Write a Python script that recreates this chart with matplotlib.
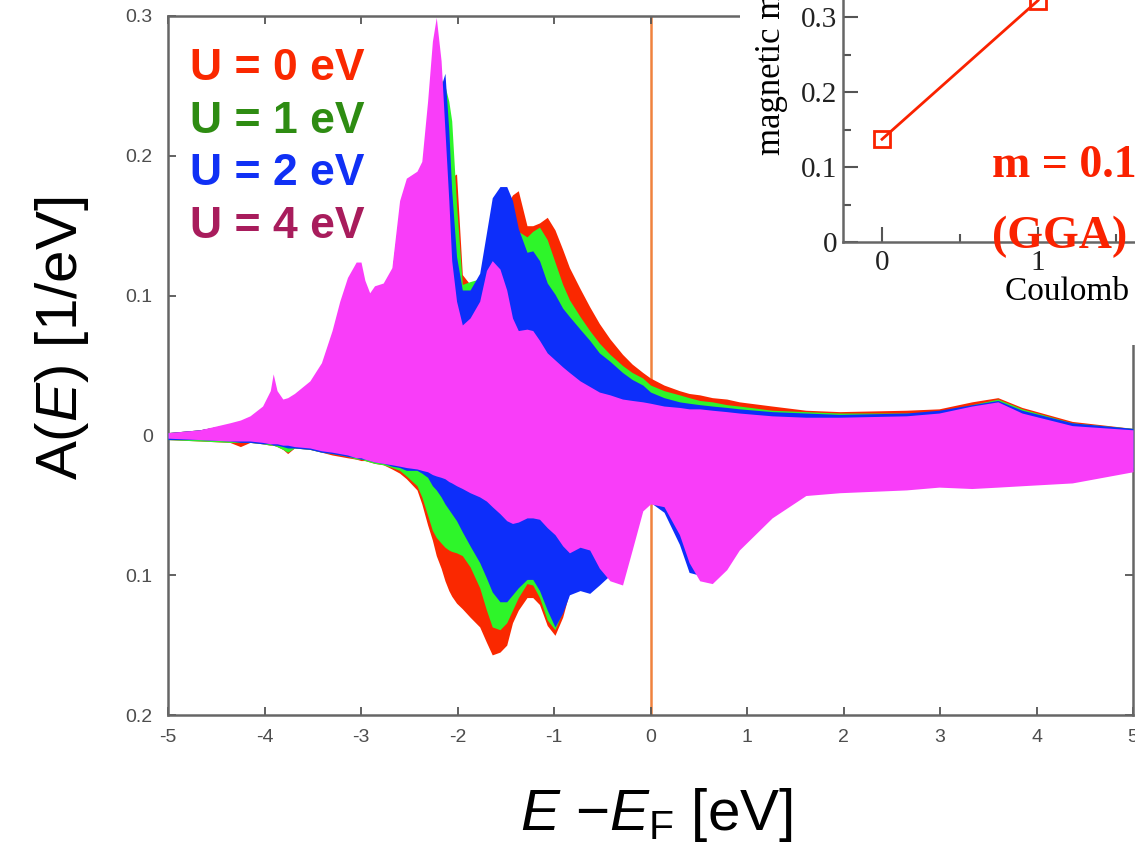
import matplotlib
matplotlib.use("Agg")
import matplotlib.pyplot as plt
from matplotlib.patches import Rectangle
from matplotlib.ticker import FixedLocator, FixedFormatter

plt.rcParams['font.family'] = ['Liberation Sans', 'DejaVu Sans']
plt.rcParams['mathtext.fontset'] = 'custom'
plt.rcParams['mathtext.rm'] = 'Liberation Sans'
plt.rcParams['mathtext.it'] = 'Liberation Sans:italic'
plt.rcParams['mathtext.bf'] = 'Liberation Sans:bold'

# ---------------- data ----------------
energy = [-5.00, -4.67, -4.36, -4.25, -4.15, -4.02, -3.94, -3.91, -3.87, -3.81,
          -3.76, -3.69, -3.53, -3.41, -3.30, -3.22, -3.14, -3.05, -3.00, -2.96,
          -2.91, -2.86, -2.77, -2.68, -2.60, -2.53, -2.42, -2.37, -2.31, -2.26,
          -2.22, -2.17, -2.13, -2.09, -2.06, -2.01, -1.95, -1.87, -1.77, -1.70,
          -1.64, -1.56, -1.49, -1.43, -1.37, -1.28, -1.22, -1.15, -1.07, -0.99,
          -0.91, -0.84, -0.73, -0.63, -0.53, -0.42, -0.29, -0.19, -0.08, 0.00,
          0.14, 0.30, 0.40, 0.51, 0.64, 0.79, 0.92, 1.26, 1.61, 1.96,
          2.65, 2.99, 3.33, 3.60, 3.85, 4.37, 5.00]

# spin-up spectral weight (plotted upward)
up_U0 = [0.002, 0.004, 0.008, 0.010, 0.013, 0.019, 0.028, 0.038, 0.030, 0.025,
         0.026, 0.029, 0.037, 0.050, 0.072, 0.092, 0.109, 0.119, 0.119, 0.107,
         0.099, 0.104, 0.106, 0.116, 0.162, 0.178, 0.183, 0.190, 0.225, 0.255,
         0.270, 0.245, 0.200, 0.170, 0.185, 0.187, 0.115, 0.108, 0.110, 0.118,
         0.140, 0.155, 0.165, 0.172, 0.175, 0.150, 0.150, 0.152, 0.156, 0.147,
         0.133, 0.120, 0.105, 0.092, 0.080, 0.069, 0.058, 0.051, 0.045, 0.041,
         0.036, 0.032, 0.030, 0.029, 0.027, 0.026, 0.024, 0.021, 0.018, 0.017,
         0.018, 0.019, 0.024, 0.027, 0.020, 0.010, 0.005]
up_U1 = [0.002, 0.004, 0.008, 0.010, 0.013, 0.019, 0.028, 0.038, 0.030, 0.025,
         0.026, 0.029, 0.037, 0.050, 0.072, 0.092, 0.109, 0.119, 0.119, 0.107,
         0.099, 0.104, 0.106, 0.116, 0.162, 0.178, 0.183, 0.190, 0.225, 0.255,
         0.270, 0.255, 0.250, 0.239, 0.225, 0.165, 0.108, 0.110, 0.112, 0.122,
         0.130, 0.135, 0.140, 0.144, 0.146, 0.142, 0.146, 0.149, 0.140, 0.124,
         0.108, 0.097, 0.085, 0.075, 0.066, 0.058, 0.050, 0.045, 0.041, 0.036,
         0.032, 0.029, 0.027, 0.025, 0.024, 0.022, 0.021, 0.018, 0.017, 0.016,
         0.016, 0.017, 0.022, 0.026, 0.019, 0.009, 0.005]
up_U2 = [0.002, 0.004, 0.008, 0.010, 0.013, 0.019, 0.028, 0.038, 0.030, 0.025,
         0.026, 0.029, 0.037, 0.050, 0.072, 0.092, 0.109, 0.119, 0.119, 0.107,
         0.099, 0.104, 0.106, 0.116, 0.162, 0.178, 0.183, 0.190, 0.225, 0.255,
         0.270, 0.250, 0.259, 0.218, 0.175, 0.128, 0.104, 0.104, 0.116, 0.145,
         0.170, 0.178, 0.178, 0.168, 0.148, 0.131, 0.132, 0.125, 0.109, 0.101,
         0.091, 0.085, 0.076, 0.068, 0.059, 0.053, 0.045, 0.040, 0.036, 0.031,
         0.027, 0.024, 0.023, 0.022, 0.021, 0.020, 0.019, 0.017, 0.016, 0.015,
         0.016, 0.018, 0.022, 0.025, 0.018, 0.009, 0.005]
up_U4 = [0.002, 0.004, 0.009, 0.011, 0.014, 0.021, 0.032, 0.044, 0.032, 0.026,
         0.027, 0.030, 0.039, 0.052, 0.075, 0.096, 0.113, 0.124, 0.124, 0.111,
         0.102, 0.107, 0.109, 0.120, 0.168, 0.184, 0.189, 0.196, 0.239, 0.282,
         0.299, 0.268, 0.218, 0.168, 0.125, 0.096, 0.079, 0.084, 0.096, 0.118,
         0.125, 0.119, 0.104, 0.084, 0.075, 0.076, 0.075, 0.068, 0.059, 0.054,
         0.049, 0.045, 0.039, 0.035, 0.031, 0.029, 0.026, 0.025, 0.024, 0.023,
         0.021, 0.020, 0.019, 0.019, 0.018, 0.017, 0.016, 0.014, 0.013, 0.013,
         0.014, 0.016, 0.021, 0.024, 0.016, 0.007, 0.004]

# spin-down spectral weight (plotted downward)
dn_U0 = [0.003, 0.004, 0.005, 0.008, 0.005, 0.006, 0.007, 0.007, 0.008, 0.010,
         0.013, 0.009, 0.010, 0.012, 0.014, 0.015, 0.016, 0.017, 0.018, 0.018,
         0.019, 0.020, 0.021, 0.024, 0.027, 0.031, 0.039, 0.049, 0.064, 0.075,
         0.086, 0.095, 0.104, 0.111, 0.115, 0.120, 0.124, 0.130, 0.137, 0.148,
         0.157, 0.155, 0.150, 0.134, 0.125, 0.116, 0.116, 0.121, 0.136, 0.143,
         0.130, 0.112, 0.095, 0.090, 0.090, 0.095, 0.098, 0.075, 0.050, 0.045,
         0.048, 0.065, 0.085, 0.098, 0.100, 0.090, 0.078, 0.056, 0.040, 0.038,
         0.036, 0.035, 0.036, 0.035, 0.034, 0.032, 0.024]
dn_U1 = [0.003, 0.004, 0.005, 0.005, 0.005, 0.006, 0.007, 0.007, 0.008, 0.010,
         0.012, 0.009, 0.010, 0.012, 0.013, 0.014, 0.015, 0.017, 0.017, 0.018,
         0.019, 0.020, 0.021, 0.023, 0.025, 0.029, 0.036, 0.044, 0.057, 0.068,
         0.073, 0.077, 0.080, 0.082, 0.083, 0.084, 0.086, 0.094, 0.109, 0.125,
         0.137, 0.139, 0.134, 0.125, 0.116, 0.106, 0.107, 0.116, 0.132, 0.139,
         0.126, 0.111, 0.094, 0.089, 0.089, 0.094, 0.097, 0.074, 0.049, 0.044,
         0.047, 0.064, 0.084, 0.097, 0.099, 0.089, 0.077, 0.055, 0.039, 0.037,
         0.035, 0.034, 0.035, 0.034, 0.033, 0.031, 0.023]
dn_U2 = [0.003, 0.003, 0.004, 0.005, 0.005, 0.006, 0.006, 0.007, 0.007, 0.008,
         0.009, 0.009, 0.010, 0.012, 0.013, 0.014, 0.015, 0.016, 0.017, 0.017,
         0.018, 0.019, 0.020, 0.022, 0.023, 0.025, 0.025, 0.027, 0.030, 0.036,
         0.039, 0.044, 0.049, 0.053, 0.056, 0.061, 0.069, 0.079, 0.091, 0.102,
         0.112, 0.119, 0.119, 0.114, 0.109, 0.103, 0.103, 0.111, 0.125, 0.137,
         0.127, 0.114, 0.111, 0.113, 0.107, 0.100, 0.100, 0.078, 0.052, 0.048,
         0.055, 0.078, 0.098, 0.100, 0.100, 0.090, 0.078, 0.057, 0.041, 0.039,
         0.037, 0.036, 0.037, 0.036, 0.035, 0.033, 0.025]
dn_U4 = [0.002, 0.003, 0.004, 0.004, 0.004, 0.005, 0.006, 0.006, 0.006, 0.007,
         0.007, 0.008, 0.009, 0.011, 0.012, 0.013, 0.014, 0.016, 0.016, 0.017,
         0.018, 0.019, 0.020, 0.021, 0.022, 0.023, 0.024, 0.025, 0.026, 0.028,
         0.029, 0.030, 0.031, 0.033, 0.034, 0.036, 0.038, 0.041, 0.044, 0.047,
         0.051, 0.056, 0.061, 0.063, 0.062, 0.059, 0.059, 0.060, 0.066, 0.071,
         0.079, 0.084, 0.080, 0.082, 0.095, 0.104, 0.107, 0.082, 0.054, 0.049,
         0.051, 0.071, 0.091, 0.104, 0.106, 0.096, 0.082, 0.059, 0.043, 0.041,
         0.039, 0.037, 0.038, 0.037, 0.036, 0.034, 0.026]

legend_labels = ["U = 0 eV", "U = 1 eV", "U = 2 eV", "U = 4 eV"]
fill_colors = ["#FA2800", "#2EF52A", "#0D2EFA", "#F93DF9"]
label_colors = ["#FA2800", "#2E8C12", "#1030F5", "#A81C5C"]

x_ticks = [-5, -4, -3, -2, -1, 0, 1, 2, 3, 4, 5]
x_ticklabels = ["-5", "-4", "-3", "-2", "-1", "0", "1", "2", "3", "4", "5"]
y_ticks = [-0.2, -0.1, 0.0, 0.1, 0.2, 0.3]
y_ticklabels = ["0.2", "0.1", "0", "0.1", "0.2", "0.3"]

# magnetic moment vs Coulomb U (inset)
inset_U = [0, 1]
inset_moment = [0.137, 0.322]
inset_xticks = [0, 1, 2, 3, 4]
inset_yticks = [0.0, 0.1, 0.2, 0.3, 0.4]
inset_yticklabels = ["0", "0.1", "0.2", "0.3", "0.4"]

# ---------------- figure ----------------
W, H = 1135, 844
fig = plt.figure(figsize=(W / 100, H / 100), dpi=100)


def frac_box(x0, y0, x1, y1):
    return [x0 / W, 1 - y1 / H, (x1 - x0) / W, (y1 - y0) / H]


ax = fig.add_axes(frac_box(168, 16, 1133, 715))
ax.set_xlim(-5, 5)
ax.set_ylim(-0.2, 0.3)

ax.axvline(0, color="#F0823E", lw=1.8, zorder=1)

series = [(up_U0, dn_U0), (up_U1, dn_U1), (up_U2, dn_U2), (up_U4, dn_U4)]
for i, (up, dn) in enumerate(series):
    ax.fill_between(energy, up, [-v for v in dn], color=fill_colors[i],
                    lw=0, zorder=2 + i)

ax.xaxis.set_major_locator(FixedLocator(x_ticks))
ax.xaxis.set_major_formatter(FixedFormatter(x_ticklabels))
ax.yaxis.set_major_locator(FixedLocator(y_ticks))
ax.yaxis.set_major_formatter(FixedFormatter(y_ticklabels))
ax.tick_params(direction="in", length=6, width=1.3, color="#555555",
               labelcolor="#4d4d4d", labelsize=14, top=True, right=True)
ax.tick_params(axis="y", pad=11)
ax.tick_params(axis="x", pad=10)
for sp in ax.spines.values():
    sp.set_color("#666666")
    sp.set_linewidth(1.8)

for i, lab in enumerate(legend_labels):
    fig.text(190 / W, 1 - (80 + 52.6 * i) / H, lab, color=label_colors[i],
             fontsize=32, fontweight="bold", ha="left", va="baseline")

fig.text(62 / W, 1 - 338 / H, r"A($E$) [1/eV]", rotation=90,
         fontsize=42, ha="center", va="center")
fig.text(656 / W, 1 - 830 / H, r"$E$ $-E_{\mathrm{F}}$ [eV]",
         fontsize=42, ha="center", va="baseline")

# white panel behind the inset
fig.add_artist(Rectangle((740 / W, 1 - 345 / H), 1, 1, transform=fig.transFigure,
                         facecolor="white", edgecolor="none", zorder=5))

axi = fig.add_axes([843 / W, 1 - 242 / H, (1545 - 843) / W, 0.45 * 750 / H])
axi.set_zorder(6)
axi.set_facecolor("none")
axi.set_xlim(-0.25, 4.25)
axi.set_ylim(0, 0.45)
axi.plot(inset_U, inset_moment, color="#FA2200", lw=2, marker="s", ms=12,
         mfc="none", mec="#FA2200", mew=2, clip_on=False)
axi.xaxis.set_major_locator(FixedLocator(inset_xticks))
axi.xaxis.set_minor_locator(FixedLocator([0.5, 1.5, 2.5, 3.5]))
axi.yaxis.set_major_locator(FixedLocator(inset_yticks))
axi.yaxis.set_major_formatter(FixedFormatter(inset_yticklabels))
axi.yaxis.set_minor_locator(FixedLocator([0.05, 0.15, 0.25, 0.35]))
axi.tick_params(which="both", direction="in", color="#555555", width=1.5,
                labelcolor="#222222", labelsize=21, top=False, right=False)
axi.tick_params(which="major", length=11)
axi.tick_params(which="minor", length=6)
axi.tick_params(axis="y", pad=4)
axi.tick_params(axis="x", pad=6)
for lbl in axi.get_xticklabels() + axi.get_yticklabels():
    lbl.set_fontfamily("Liberation Serif")
for side in ("top", "right"):
    axi.spines[side].set_visible(False)
for side in ("left", "bottom"):
    axi.spines[side].set_color("#666666")
    axi.spines[side].set_linewidth(1.8)

serif = ["Liberation Serif", "DejaVu Serif"]
fig.text(771 / W, 1 - 155 / H, "magnetic moment (μB)", rotation=90,
         fontsize=25, family=serif, ha="center", va="bottom", zorder=7)
fig.text(1005 / W, 1 - 300 / H, "Coulomb U [eV]", fontsize=24, family=serif,
         ha="left", va="baseline", zorder=7)
fig.text(992 / W, 1 - 177 / H, "m = 0.14 μB", fontsize=33, family=serif,
         fontweight="bold", color="#FA2200", ha="left", va="baseline", zorder=7)
fig.text(992 / W, 1 - 248 / H, "(GGA)", fontsize=33, family=serif,
         fontweight="bold", color="#FA2200", ha="left", va="baseline", zorder=7)

fig.savefig("out.png", dpi=100)
